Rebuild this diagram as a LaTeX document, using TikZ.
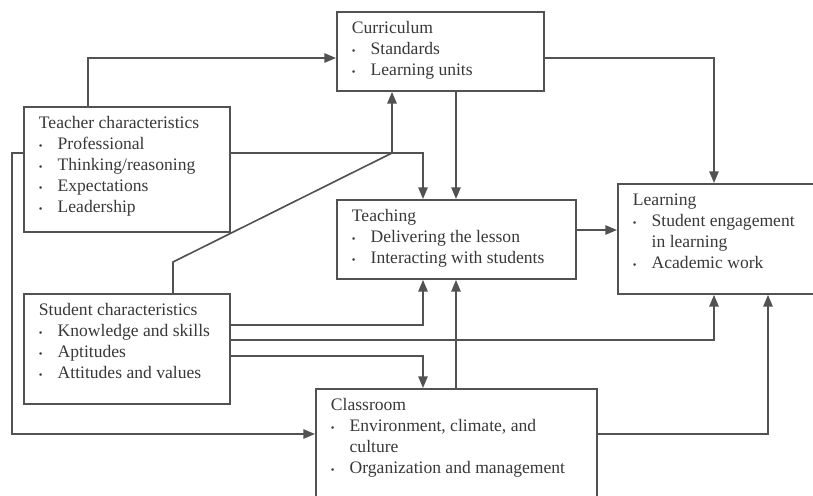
\documentclass[tikz,border=0pt]{standalone}
\usepackage{fontspec}
\setmainfont{Liberation Serif}
\usetikzlibrary{arrows.meta}

\newcommand{\bul}{\makebox[16pt][l]{\raisebox{0.5pt}{\small\textbullet}}}
\newcommand{\boxtxt}[3]{\parbox[b][#2][t]{#1}{\rule{0pt}{18.7pt}#3}}

\tikzset{
  panel/.style={draw=black!68, line width=1.6pt, text=black!78, anchor=north west,
    inner xsep=0.45cm, inner ysep=0pt, font=\fontsize{15}{17.9}\selectfont},
  arr/.style={draw=black!68, line width=1.4pt, -{Triangle[length=10pt,width=8pt]}}
}

\begin{document}
\begin{tikzpicture}[x=0.03cm,y=-0.03cm]
  \useasboundingbox (0,0) rectangle (813,495);
  \clip (0,0) rectangle (813,495);

  % boxes
  \node[panel] (cur) at (336,11) {\boxtxt{5.31cm}{2.37cm}{Curriculum\\ \bul Standards\\ \bul Learning units}};
  \node[panel] (tch) at (23,106) {\boxtxt{5.28cm}{3.75cm}{Teacher characteristics\\ \bul Professional\\ \bul Thinking/reasoning\\ \bul Expectations\\ \bul Leadership}};
  \node[panel] (tea) at (336,199) {\boxtxt{6.27cm}{2.37cm}{Teaching\\ \bul Delivering the lesson\\ \bul Interacting with students}};
  \node[panel] (lrn) at (617,183) {\boxtxt{5.49cm}{3.3cm}{Learning\\ \bul Student engagement\\ \hspace*{16pt}in learning\\ \bul Academic work}};
  \node[panel] (stu) at (23,293) {\boxtxt{5.28cm}{3.3cm}{Student characteristics\\ \bul Knowledge and skills\\ \bul Aptitudes\\ \bul Attitudes and values}};
  \node[panel] (cls) at (315,388) {\boxtxt{7.53cm}{3.9cm}{Classroom\\ \bul Environment, climate, and\\ \hspace*{16pt}culture\\ \bul Organization and management}};

  % links
  \draw[arr] (tch.north -| 88,0) |- (cur.west |- 0,58);
  \draw[arr] (tch.east |- 0,153) -| (tea.north -| 423,0);
  \draw[arr] (cur.south -| 456,0) -- (tea.north -| 456,0);
  \draw[arr] (cur.east |- 0,58) -| (lrn.north -| 714,0);
  \draw[arr] (tea.east |- 0,230) -- (lrn.west |- 0,230);
  \draw[arr] (stu.north -| 173,0) -- (173,262) -- (392,153) -- (cur.south -| 392,0);
  \draw[arr] (stu.east |- 0,325) -| (tea.south -| 423,0);
  \draw[arr] (stu.east |- 0,340) -| (lrn.south -| 714,0);
  \draw[arr] (stu.east |- 0,356) -| (cls.north -| 423,0);
  \draw[arr] (cls.north -| 456,0) -- (tea.south -| 456,0);
  \draw[arr] (cls.east |- 0,434) -| (lrn.south -| 768,0);
  \draw[arr] (tch.west |- 0,153) -- (12,153) |- (cls.west |- 0,434);
\end{tikzpicture}
\end{document}
